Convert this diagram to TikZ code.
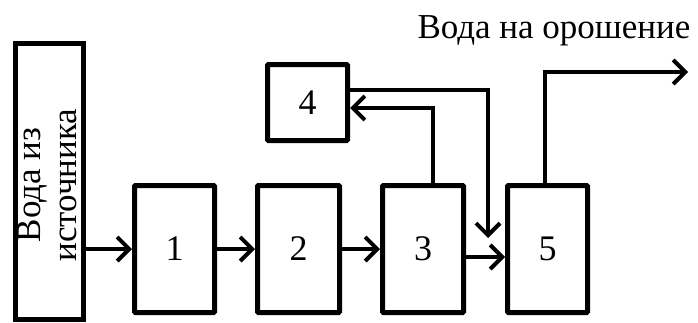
\documentclass[tikz,border=0pt]{standalone}
\usepackage{fontspec}
\setmainfont{Liberation Serif}
\usetikzlibrary{arrows.meta}
\begin{document}
\begin{tikzpicture}[x=1pt,y=-1pt,
  blk/.style={draw, line width=5pt, rounded corners=1pt, inner sep=0pt,
    minimum width=80pt, minimum height=127pt, font=\fontsize{36}{36}\selectfont},
  arr/.style={line width=4pt, -{Straight Barb[length=12pt,width=24pt,line width=4pt]}},
  ln/.style={line width=4pt}]
\useasboundingbox (0,0) rectangle (698,322);
% source column
\node[blk, minimum width=68pt, minimum height=276pt, rounded corners=0pt] (src) at (49.5,181) {};
\node[rotate=90, align=center, font=\fontsize{35}{36}\selectfont] (srctxt) at (47,185) {Вода из\\источника};
% treatment stages
\node[blk] (b1) at (174.5,249) {1};
\node[blk, minimum width=82pt] (b2) at (298.5,249) {2};
\node[blk, minimum width=81pt] (b3) at (423,249) {3};
\node[blk] (b5) at (547.5,249) {5};
\node[blk, minimum height=76pt] (b4) at (307.5,102.5) {4};
% outlet label
\node[font=\fontsize{35}{35}\selectfont, anchor=base] (out) at (554,38) {Вода на орошение};
% main flow
\draw[arr] (src.east |- b1.west) -- (b1.west);
\draw[arr] (b1.east) -- (b2.west);
\draw[arr] (b2.east) -- (b3.west);
\coordinate (from3) at ([yshift=-8pt]b3.east);
\draw[arr] (from3) -- (b5.west |- from3);
% loop through stage 4
\coordinate (up3) at (433,108);
\draw[arr] (b3.north -| up3) -- (up3) -- (b4.east |- up3);
\coordinate (turn4) at (488,90);
\coordinate (drop4) at (488,238);
\draw[arr] (b4.east |- turn4) -- (turn4) -- (drop4);
% outlet
\coordinate (rise5) at (545,72);
\coordinate (end5) at (688,72);
\draw[arr] (b5.north -| rise5) -- (rise5) -- (end5);
\end{tikzpicture}
\end{document}
